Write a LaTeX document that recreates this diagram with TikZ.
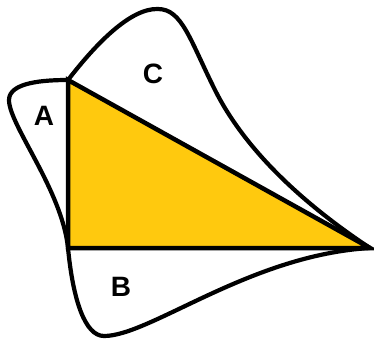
\documentclass[tikz,border=0pt]{standalone}
\usepackage{fontspec}
\setmainfont{Liberation Sans}
\usetikzlibrary{positioning}
\definecolor{tri}{RGB}{255,201,14}

\begin{document}
\begin{tikzpicture}[
    x=1pt, y=-1pt,
    lab/.style={font=\bfseries\fontsize{28}{28}\selectfont, inner sep=0pt},
    petal/.style={draw, line width=4.2pt},
    edge/.style={draw, line width=4.5pt, line join=miter}
]
\useasboundingbox (0,0) rectangle (374,341);

\coordinate (tl) at (68,80);
\coordinate (bl) at (68,248);
\coordinate (rt) at (370,248);

% triangle
\path[edge, fill=tri] (tl) -- (bl) -- (rt) -- cycle;

% A
\path[petal] (tl) .. controls (45,80) and (9,82) .. (9,100)
    .. controls (9,125) and (62,190) .. (bl);
% B
\path[petal] (bl) .. controls (73,300) and (85,336) .. (104,336)
    .. controls (150,336) and (250,255) .. (rt);
% C
\path[petal] (tl) .. controls (95,45) and (130,8) .. (158,9)
    .. controls (182,9) and (190,40) .. (215,90)
    .. controls (250,160) and (320,215) .. (rt);

\node[lab] (la) at (44,116) {A};
\node[lab] (lb) at (121,287) {B};
\node[lab] (lc) at (153,74) {C};
\end{tikzpicture}
\end{document}
